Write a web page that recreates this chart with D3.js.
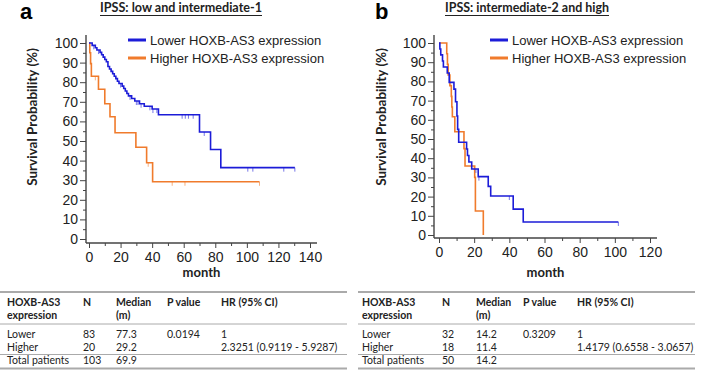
<!DOCTYPE html>
<html lang="en">
<head>
<meta charset="utf-8">
<title>HOXB-AS3 survival</title>
<script src="https://d3js.org/d3.v7.min.js"></script>
<style>
  body { margin: 0; background: #fff; }
  svg { display: block; }
  .num { font-family: "Liberation Sans", Arial, sans-serif; font-size: 13px; fill: #222; }
  .tk { font-family: "Liberation Sans", Arial, sans-serif; font-size: 14px; fill: #222; }
  .cal { font-family: Lato, "Open Sans", sans-serif; }
</style>
</head>
<body>
<svg width="709" height="386"></svg>
<script>
// panel a: IPSS low and intermediate-1
const aLowTime = [0, 2, 4, 5, 7, 8, 9, 10, 11, 12, 13, 14, 15, 16, 17, 18, 19, 21, 22, 23, 24, 25, 27, 29, 32, 35, 40, 44, 70, 77, 83.5, 130.4];
const aLowSurv = [100, 98.8, 97.6, 96.4, 95.2, 94, 92.8, 91.6, 90.4, 88, 86.7, 85.5, 84.3, 83, 81.8, 80.5, 79.3, 78, 76.8, 75.5, 74.2, 73, 71.7, 70.4, 69, 67.7, 66.3, 63.4, 54.6, 45.7, 36.4, 36.4];
const aLowCens = [3, 6, 20, 26, 30, 31, 33, 38.6, 40.5, 43, 59, 61, 63, 66, 73, 100.6, 103.8, 123.4, 130.4];
const aHighTime = [0, 0.5, 1, 1.5, 6, 10, 13.3, 16.5, 29.7, 36.5, 40.3, 108];
const aHighSurv = [100, 95, 89.5, 83, 76.4, 69, 62.4, 54.2, 46.8, 38.9, 29.2, 29.2];
const aHighCens = [4, 37.5, 52.7, 60.8, 108];

// panel b: IPSS intermediate-2 and high
const bLowTime = [0, 0.5, 1, 2, 2.5, 4.7, 5.8, 8.5, 9.4, 10.2, 10.6, 11.2, 15.7, 16.2, 17, 18.6, 22.3, 28, 29.4, 42.2, 47.9, 102];
const bLowSurv = [100, 96.9, 93.8, 90.6, 87.5, 84.4, 79.5, 76, 69.4, 62, 55, 48.3, 44.8, 41.4, 38, 34.4, 30.4, 25.3, 20.3, 13.5, 6.8, 6.8];
const bLowCens = [0.3, 21, 22.7, 40, 102];
const bHighTime = [0, 4.4, 4.8, 5.2, 6.2, 7, 7.3, 7.6, 9, 14.2, 14.8, 20.3, 20.7, 25.2];
const bHighSurv = [100, 94.4, 88.9, 83.3, 77.8, 72.2, 66.7, 61.6, 53.8, 45, 35.9, 30, 12.5, 0];
const bHighCens = [20];

const seriesNames = ["Lower HOXB-AS3 expression", "Higher HOXB-AS3 expression"];
const panelLetters = ["a", "b"];
const panelTitles = ["IPSS: low and intermediate-1", "IPSS: intermediate-2 and high"];
const yTicks = [0, 10, 20, 30, 40, 50, 60, 70, 80, 90, 100];
const aXTicks = [0, 20, 40, 60, 80, 100, 120, 140];
const bXTicks = [0, 20, 40, 60, 80, 100, 120];

// tables
const tableHead1 = ["HOXB-AS3", "N", "Median", "P value", "HR (95% CI)"];
const tableHead2 = ["expression", "", "(m)", "", ""];
const aRows = [["Lower", "83", "77.3", "0.0194", "1"],
               ["Higher", "20", "29.2", "", "2.3251 (0.9119 - 5.9287)"],
               ["Total patients", "103", "69.9", "", ""]];
const bRows = [["Lower", "32", "14.2", "0.3209", "1"],
               ["Higher", "18", "11.4", "", "1.4179 (0.6558 - 3.0657)"],
               ["Total patients", "50", "14.2", "", ""]];

const colors = ["#1c1cd8", "#f07b2c"];
const svg = d3.select("svg");

const panels = [
  {ox: 0, xMax: 140, xTicks: aXTicks, x0: 89, x1: 310, yTop: 43, yBot: 239, axX: 86, axY: 243, axEnd: 317,
   ylab: 37, legX: 128, tx: 181, tw: 162,
   curves: [[aLowTime, aLowSurv, aLowCens], [aHighTime, aHighSurv, aHighCens]],
   rows: aRows, tabL: 0, tabR: 347, cols: [7, 83, 116, 167, 221]},
  {ox: 355, xMax: 120, xTicks: bXTicks, x0: 439, x1: 650, yTop: 43, yBot: 235, axX: 434, axY: 238, axEnd: 657,
   ylab: 386, legX: 490, tx: 527, tw: 164,
   curves: [[bLowTime, bLowSurv, bLowCens], [bHighTime, bHighSurv, bHighCens]],
   rows: bRows, tabL: 358, tabR: 695, cols: [362, 442, 476, 523, 577]}
];

panels.forEach((p, pi) => {
  const g = svg.append("g");
  const x = d3.scaleLinear().domain([0, p.xMax]).range([p.x0, p.x1]);
  const y = d3.scaleLinear().domain([0, 100]).range([p.yBot, p.yTop]);

  // letter + title
  g.append("text").attr("x", p.ox + 20).attr("y", 19)
    .attr("font-family", "Liberation Sans, Arial").attr("font-weight", "bold").attr("font-size", 22)
    .text(panelLetters[pi]);
  g.append("text").attr("class", "cal").attr("x", p.tx).attr("y", 12)
    .attr("text-anchor", "middle").attr("font-weight", "bold").attr("font-size", 13.5).attr("fill", "#222")
    .attr("textLength", p.tw).attr("lengthAdjust", "spacingAndGlyphs")
    .text(panelTitles[pi]);
  g.append("line").attr("x1", p.tx - p.tw / 2).attr("x2", p.tx + p.tw / 2).attr("y1", 15.5).attr("y2", 15.5)
    .attr("stroke", "#222").attr("stroke-width", 1);

  // axes
  g.append("g").attr("transform", `translate(${p.axX},0)`)
    .call(d3.axisLeft(y).tickValues(yTicks).tickSize(6).tickPadding(2));
  g.append("g").attr("transform", `translate(${p.axX},0)`)
    .call(d3.axisLeft(y).tickValues(d3.range(5, 100, 10)).tickSize(3).tickFormat(""));
  g.append("g").attr("transform", `translate(0,${p.axY})`)
    .call(d3.axisBottom(x).tickValues(p.xTicks).tickSize(5).tickPadding(4));
  g.append("g").attr("transform", `translate(0,${p.axY})`)
    .call(d3.axisBottom(x).tickValues(d3.range(10, p.xMax, 20)).tickSize(3).tickFormat(""));
  g.selectAll(".domain").remove();
  g.selectAll(".tick line").attr("stroke", "#444");
  g.selectAll(".tick text").attr("class", "tk").attr("font-size", null).attr("font-family", null);
  g.append("line").attr("x1", p.axX).attr("x2", p.axX).attr("y1", 35).attr("y2", p.axY)
    .attr("stroke", "#444").attr("stroke-width", 1.4);
  g.append("line").attr("x1", p.axX).attr("x2", p.axEnd).attr("y1", p.axY).attr("y2", p.axY)
    .attr("stroke", "#444").attr("stroke-width", 1.4);

  g.append("text").attr("class", "cal").attr("font-weight", "bold").attr("font-size", 13.5).attr("fill", "#222")
    .attr("text-anchor", "middle")
    .attr("transform", `translate(${p.ylab},117) rotate(-90)`)
    .text("Survival Probability (%)");
  g.append("text").attr("class", "cal").attr("font-weight", "bold").attr("font-size", 13).attr("fill", "#222")
    .attr("text-anchor", "middle").attr("x", (p.axX + p.axEnd) / 2).attr("y", 277)
    .text("month");

  // curves
  const line = d3.line().x(d => x(d[0])).y(d => y(d[1])).curve(d3.curveStepAfter);
  p.curves.slice().reverse().forEach((c, ri) => {
    const si = 1 - ri;
    const pts = c[0].map((tm, i) => [tm, c[1][i]]);
    g.append("path").attr("d", line(pts)).attr("fill", "none")
      .attr("stroke", colors[si]).attr("stroke-width", 1.6);
    const bis = d3.bisector(d => d).right;
    g.selectAll(null).data(c[2]).enter().append("line")
      .attr("x1", d => x(d)).attr("x2", d => x(d))
      .attr("y1", d => y(c[1][Math.max(0, bis(c[0], d) - 1)]))
      .attr("y2", d => y(c[1][Math.max(0, bis(c[0], d) - 1)]) + 4)
      .attr("stroke", colors[si]).attr("stroke-opacity", 0.6).attr("stroke-width", 1);
  });

  // legend
  seriesNames.forEach((s, i) => {
    const ly = 40 + i * 18;
    g.append("line").attr("x1", p.legX).attr("x2", p.legX + 18).attr("y1", ly).attr("y2", ly)
      .attr("stroke", colors[i]).attr("stroke-width", 3);
    g.append("text").attr("class", "num").attr("x", p.legX + 22).attr("y", ly + 5).text(s);
  });

  // table
  const rules = [[292, 2], [324, 1], [354.5, 1], [368.5, 2]];
  rules.forEach(r => g.append("line").attr("x1", p.tabL).attr("x2", p.tabR)
    .attr("y1", r[0]).attr("y2", r[0]).attr("stroke", "#aaa").attr("stroke-width", r[1]));
  const tcell = (txt, cx, cy, bold) => g.append("text").attr("class", "cal")
    .attr("x", cx).attr("y", cy).attr("font-size", 10.5).attr("fill", "#222")
    .attr("font-weight", bold ? "bold" : "normal").text(txt);
  tableHead1.forEach((h, j) => tcell(h, p.cols[j], 305.5, true));
  tableHead2.forEach((h, j) => tcell(h, p.cols[j], 318.5, true));
  p.rows.forEach((r, i) => r.forEach((v, j) => tcell(v, p.cols[j], [337.5, 350.5, 364][i], false)));
});
</script>
</body>
</html>
